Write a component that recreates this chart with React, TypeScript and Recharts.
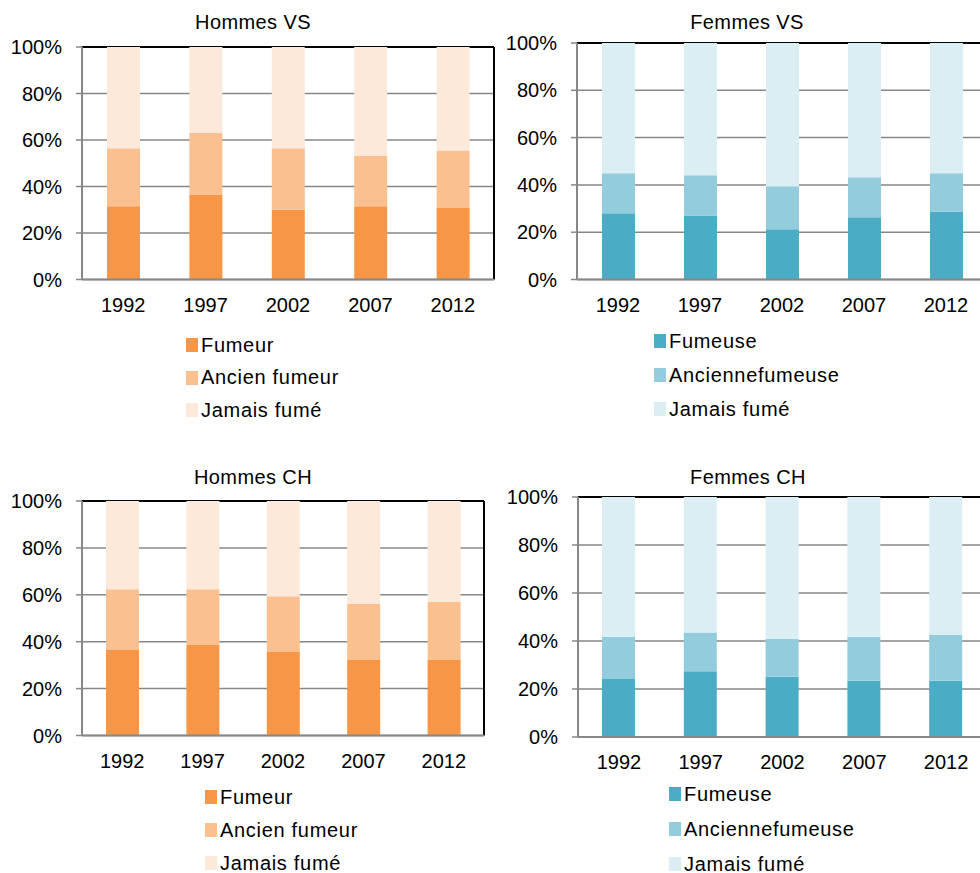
import { BarChart, Bar, XAxis, YAxis, CartesianGrid, ReferenceLine } from 'recharts';

const YEARS = ['1992', '1997', '2002', '2007', '2012'];
const Y_TICKS = [0, 20, 40, 60, 80, 100];
const EDGE_TICKS = [0, 1, 2, 3, 4, 5];

const MEN_LABELS = ['Fumeur', 'Ancien fumeur', 'Jamais fumé'];
const WOMEN_LABELS = ['Fumeuse', 'Anciennefumeuse', 'Jamais fumé'];

const ORANGES = ['#F79646', '#FAC090', '#FDE9D9'];
const BLUES = ['#4BACC6', '#93CDDD', '#DAEEF3'];

// Valais
const HVS_FUMEUR = [31.5, 36.6, 30.0, 31.5, 30.7];
const HVS_ANCIEN = [25.0, 26.5, 26.5, 21.7, 24.8];
const HVS_JAMAIS = [43.5, 36.9, 43.5, 46.8, 44.5];

const FVS_FUMEUSE = [28.0, 27.1, 21.2, 26.3, 28.8];
const FVS_ANCIENNE = [16.9, 17.0, 18.2, 16.9, 16.1];
const FVS_JAMAIS = [55.1, 55.9, 60.6, 56.8, 55.1];

// Suisse
const HCH_FUMEUR = [36.5, 38.6, 35.6, 32.2, 32.2];
const HCH_ANCIEN = [25.9, 23.8, 23.8, 23.9, 24.8];
const HCH_JAMAIS = [37.6, 37.6, 40.6, 43.9, 43.0];

const FCH_FUMEUSE = [24.2, 27.4, 25.1, 23.4, 23.4];
const FCH_ANCIENNE = [17.6, 16.1, 15.8, 18.4, 19.2];
const FCH_JAMAIS = [58.2, 56.5, 59.1, 58.2, 57.4];

const FONT = '"Liberation Sans", Arial, sans-serif';
const GRID = '#878787';

const Y_W = 82;
const M_TOP = 10;
const M_RIGHT = 10;
const X_H = 40;
const EDGE_H = 1;

// axis ids: 0 = category boundaries (tick marks only), 1 = years
const EDGE_AXIS = 0;
const CAT_AXIS = 1;

interface PanelProps {
  title: string;
  series: number[][];
  labels: string[];
  colors: string[];
  box: { x: number; y: number; w: number; h: number };
  titleAt: [number, number];
  legendAt: [number, number];
  rowGap: number;
}

function Panel({ title, series, labels, colors, box, titleAt, legendAt, rowGap }: PanelProps) {
  const data = YEARS.map((year, i) => ({
    year,
    pos: i + 0.5,
    s0: series[0][i],
    s1: series[1][i],
    s2: series[2][i],
  }));

  return (
    <>
      <div
        style={{
          position: 'absolute', left: titleAt[0] - 150, top: titleAt[1] - 12, width: 300,
          textAlign: 'center', fontSize: 20, lineHeight: '24px', letterSpacing: 0.4,
        }}
      >
        {title}
      </div>
      <div style={{ position: 'absolute', left: box.x - Y_W, top: box.y - M_TOP }}>
        <BarChart
          width={Y_W + box.w + M_RIGHT}
          height={M_TOP + box.h + EDGE_H + X_H}
          data={data}
          margin={{ top: M_TOP, right: M_RIGHT, bottom: 0, left: 0 }}
        >
          <CartesianGrid xAxisId={CAT_AXIS} vertical={false} stroke={GRID} strokeWidth={1.5} />
          <ReferenceLine xAxisId={CAT_AXIS} y={100} stroke="#000" strokeWidth={2} zIndex={-50} />
          <ReferenceLine xAxisId={EDGE_AXIS} x={5} stroke="#000" strokeWidth={2} zIndex={-50} />
          <XAxis
            xAxisId={EDGE_AXIS}
            dataKey="pos"
            type="number"
            domain={[0, 5]}
            allowDataOverflow
            ticks={EDGE_TICKS}
            interval={0}
            tick={false}
            tickSize={5}
            tickLine={{ stroke: GRID, strokeWidth: 1.5 }}
            axisLine={false}
            height={EDGE_H}
            stroke={GRID}
          />
          <XAxis
            xAxisId={CAT_AXIS}
            dataKey="year"
            height={X_H}
            interval={0}
            tickLine={false}
            tickSize={0}
            tickMargin={17}
            axisLine={false}
            tick={{ fill: '#000', fontSize: 20, fontFamily: FONT }}
          />
          <YAxis
            width={Y_W}
            domain={[0, 100]}
            ticks={Y_TICKS}
            interval={0}
            tickFormatter={(v) => `${v}%`}
            tickSize={6}
            tickMargin={14}
            tickLine={{ stroke: GRID, strokeWidth: 1.5 }}
            axisLine={{ stroke: GRID, strokeWidth: 2 }}
            tick={{ fill: '#000', fontSize: 20, fontFamily: FONT }}
          />
          {['s0', 's1', 's2'].map((key, i) => (
            <Bar
              key={key}
              xAxisId={CAT_AXIS}
              dataKey={key}
              stackId="a"
              fill={colors[i]}
              barSize={33}
              isAnimationActive={false}
            />
          ))}
          <ReferenceLine xAxisId={CAT_AXIS} y={0} stroke={GRID} strokeWidth={2} />
        </BarChart>
      </div>
      {labels.map((label, i) => (
        <div
          key={label}
          style={{
            position: 'absolute', left: legendAt[0], top: legendAt[1] + i * rowGap - 12,
            height: 24, display: 'flex', alignItems: 'center', fontSize: 20, letterSpacing: 0.7,
            whiteSpace: 'nowrap',
          }}
        >
          <span style={{ width: 12, height: 14, background: colors[i], marginRight: 3, display: 'inline-block' }} />
          {label}
        </div>
      ))}
    </>
  );
}

export default function App() {
  return (
    <div
      style={{
        position: 'absolute', left: 0, top: 0, width: 980, height: 873, overflow: 'hidden',
        background: '#fff', fontFamily: FONT, color: '#000',
      }}
    >
      <Panel
        title="Hommes VS"
        series={[HVS_FUMEUR, HVS_ANCIEN, HVS_JAMAIS]}
        labels={MEN_LABELS}
        colors={ORANGES}
        box={{ x: 82, y: 46.5, w: 412, h: 232.5 }}
        titleAt={[253, 22]}
        legendAt={[186, 345]}
        rowGap={32.5}
      />
      <Panel
        title="Femmes VS"
        series={[FVS_FUMEUSE, FVS_ANCIENNE, FVS_JAMAIS]}
        labels={WOMEN_LABELS}
        colors={BLUES}
        box={{ x: 577, y: 42.5, w: 410, h: 236.5 }}
        titleAt={[747, 22]}
        legendAt={[654, 341]}
        rowGap={34}
      />
      <Panel
        title="Hommes CH"
        series={[HCH_FUMEUR, HCH_ANCIEN, HCH_JAMAIS]}
        labels={MEN_LABELS}
        colors={ORANGES}
        box={{ x: 82, y: 501, w: 402, h: 234.5 }}
        titleAt={[253, 477]}
        legendAt={[205, 797]}
        rowGap={33}
      />
      <Panel
        title="Femmes CH"
        series={[FCH_FUMEUSE, FCH_ANCIENNE, FCH_JAMAIS]}
        labels={WOMEN_LABELS}
        colors={BLUES}
        box={{ x: 578, y: 497, w: 409, h: 240 }}
        titleAt={[748, 477]}
        legendAt={[669, 794]}
        rowGap={35}
      />
    </div>
  );
}
